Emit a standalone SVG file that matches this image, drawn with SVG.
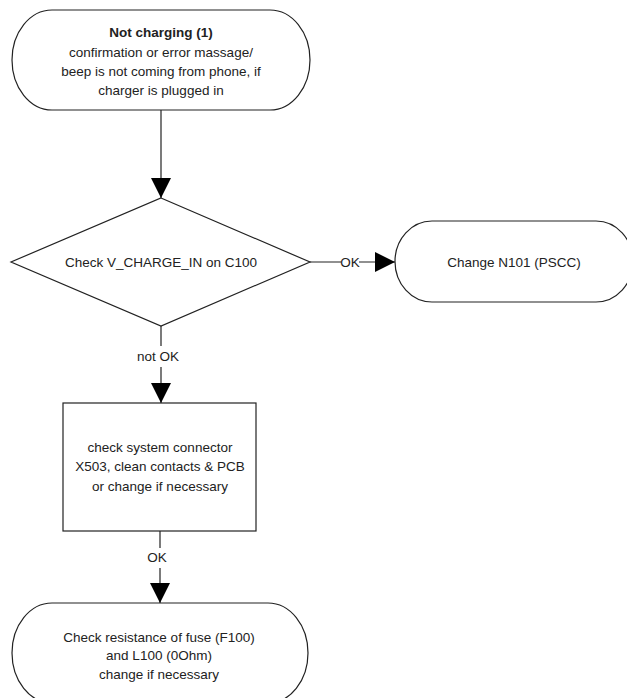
<svg xmlns="http://www.w3.org/2000/svg" width="627" height="698" viewBox="0 0 627 698">
  <defs>
    <marker id="arrow" markerUnits="userSpaceOnUse" markerWidth="20" markerHeight="20" refX="20" refY="10" orient="auto">
      <path d="M0,0 L20,10 L0,20 Z" fill="#000"/>
    </marker>
    <style>
      .shape { fill: #fff; stroke: #222; stroke-width: 1.2; }
      .edge { fill: none; stroke: #222; stroke-width: 1.2; }
      text { font-family: "Liberation Sans", Arial, sans-serif; font-size: 13.5px; fill: #222; text-anchor: middle; }
      .bold { font-weight: bold; }
      .lblbg { fill: #fff; stroke: none; }
    </style>
  </defs>
  <rect width="627" height="698" fill="#fff"/>

  <!-- connectors -->
  <g id="connectors">
    <path class="edge" d="M161,110 V198" marker-end="url(#arrow)"/>
    <path class="edge" d="M310,262 H395" marker-end="url(#arrow)"/>
    <rect class="lblbg" x="341" y="254" width="18" height="16"/>
    <text x="350" y="267">OK</text>
    <path class="edge" d="M161,326 V403" marker-end="url(#arrow)"/>
    <rect class="lblbg" x="135" y="346" width="46" height="21"/>
    <text x="158" y="361">not OK</text>
    <path class="edge" d="M160,531 V603" marker-end="url(#arrow)"/>
    <rect class="lblbg" x="148" y="548" width="20" height="20"/>
    <text x="157" y="562">OK</text>
  </g>

  <!-- start terminator -->
  <g id="start">
    <path class="shape" d="M52,10 H270 A40,50 0 0 1 270,110 H52 A40,50 0 0 1 52,10 Z"/>
    <text class="bold" x="161" y="37">Not charging (1)</text>
    <text x="161" y="57">confirmation or error massage/</text>
    <text x="161" y="76">beep is not coming from phone, if</text>
    <text x="161" y="95">charger is plugged in</text>
  </g>

  <!-- decision -->
  <g id="check-vcharge">
    <path class="shape" d="M161,198 L310,262 L161,326 L11,262 Z"/>
    <text x="161" y="267">Check V_CHARGE_IN on C100</text>
  </g>

  <!-- change PSCC -->
  <g id="change-n101">
    <path class="shape" d="M432,221 H596 A37,40.5 0 0 1 596,302 H432 A37,40.5 0 0 1 432,221 Z"/>
    <text x="514" y="267">Change N101 (PSCC)</text>
  </g>

  <!-- system connector check -->
  <g id="check-connector">
    <rect class="shape" x="63" y="403" width="193" height="128"/>
    <text x="160" y="452">check system connector</text>
    <text x="160" y="471">X503, clean contacts &amp; PCB</text>
    <text x="160" y="491">or change if necessary</text>
  </g>

  <!-- fuse check -->
  <g id="check-fuse">
    <path class="shape" d="M52,603 H268 A40,50 0 0 1 268,703 H52 A40,50 0 0 1 52,603 Z"/>
    <text x="159" y="642">Check resistance of fuse (F100)</text>
    <text x="159" y="660">and L100 (0Ohm)</text>
    <text x="159" y="679">change if necessary</text>
  </g>
</svg>
